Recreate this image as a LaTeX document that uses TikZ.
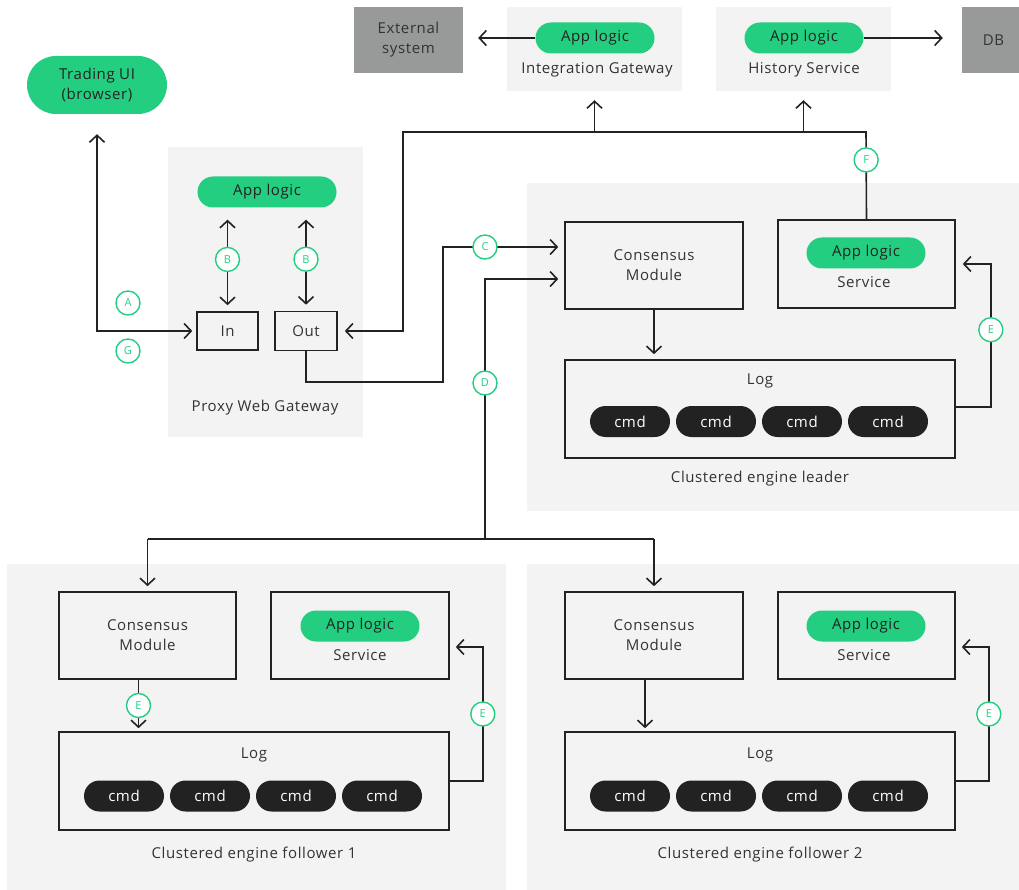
\documentclass[tikz,border=0pt]{standalone}
\usepackage{fontspec}
\setmainfont{Open Sans}[LetterSpace=4]
\usetikzlibrary{arrows.meta,shapes.misc}
\definecolor{ink}{HTML}{222222}
\definecolor{txt}{HTML}{333333}
\definecolor{appgreen}{HTML}{24CE80}
\definecolor{panelgray}{HTML}{F3F3F3}
\definecolor{extgray}{HTML}{989A99}

\begin{document}
\begin{tikzpicture}[x=1pt,y=-1pt,
  every node/.style={font=\fontsize{15}{20}\selectfont, text=txt, align=center},
  panel/.style={fill=panelgray, inner sep=0},
  extbox/.style={fill=extgray, inner sep=0},
  pill/.style={rounded rectangle, fill=appgreen, inner sep=0, minimum width=119, minimum height=31, text=ink},
  cmd/.style={rounded rectangle, fill=ink, inner sep=0, minimum width=80, minimum height=31, text=white},
  box/.style={draw=ink, line width=1.6pt, inner sep=0},
  tag/.style={circle, draw=appgreen, fill=white, line width=1.4pt, minimum size=24, inner sep=0, text=appgreen, font=\fontsize{11}{11}\selectfont},
  wire/.style={draw=ink, line width=1.6pt},
  arr/.style={-{Straight Barb[length=7pt,width=15pt]}},
  arr2/.style={{Straight Barb[length=7pt,width=15pt]}-{Straight Barb[length=7pt,width=15pt]}}]
\useasboundingbox (0,0) rectangle (1019,890);

\node[panel, minimum width=175, minimum height=84] (igw) at (594.5,49) {};
\node[panel, minimum width=175, minimum height=84] (hsw) at (803.5,49) {};
\node[panel, minimum width=195, minimum height=290] (pwg) at (265.5,292) {};
\node[panel, minimum width=498, minimum height=328] (lead) at (776,347) {};
\node[panel, minimum width=499, minimum height=331] (fol1) at (256.5,729.5) {};
\node[panel, minimum width=498, minimum height=331] (fol2) at (776,729.5) {};

\node[extbox, minimum width=109, minimum height=66] (extsys) at (408.5,40) {External\\system};
\node[extbox, minimum width=63, minimum height=66] (db) at (993.5,40) {DB};
\node[pill, minimum width=140, minimum height=58] (ui) at (97,85) {Trading UI\\(browser)};

\node (igw-lbl) at (597,70) {Integration Gateway};
\node (hsw-lbl) at (804,70) {History Service};
\node (pwg-lbl) at (265,408) {Proxy Web Gateway};
\node (lead-lbl) at (760,479) {Clustered engine leader};
\node (fol1-lbl) at (254,855) {Clustered engine follower 1};
\node (fol2-lbl) at (760,855) {Clustered engine follower 2};

\node[pill] (igw-app) at (595,38) {App logic};
\node[pill] (hsw-app) at (804,38) {App logic};
\node[pill, minimum width=139] (pwg-app) at (267,192) {App logic};
\node[box, minimum width=61, minimum height=38] (in) at (227.5,331) {In};
\node[box, minimum width=62, minimum height=39] (out) at (306,331) {Out};

\node[box, minimum width=178, minimum height=87] (cm0) at (654,265.5) {Consensus\\Module};
\node[box, minimum width=177, minimum height=88] (svc0) at (866.5,264) {};
\node[pill] (svc0-app) at (866,253) {App logic};
\node (svc0-lbl) at (864,282) {Service};
\node[box, minimum width=390, minimum height=98] (log0) at (760,409) {};
\node (log0-lbl) at (760,381) {Log};
\foreach \i/\x in {1/630,2/716,3/802,4/888}
  \node[cmd] (log0-cmd\i) at (\x,421.5) {cmd};

\node[box, minimum width=177, minimum height=87] (cm1) at (147.5,635.5) {Consensus\\Module};
\node[box, minimum width=178, minimum height=87] (svc1) at (360,635.5) {};
\node[pill] (svc1-app) at (360,626) {App logic};
\node (svc1-lbl) at (360,655) {Service};
\node[box, minimum width=390, minimum height=98] (log1) at (254,781) {};
\node (log1-lbl) at (254,755) {Log};
\foreach \i/\x in {1/124,2/210,3/296,4/382}
  \node[cmd] (log1-cmd\i) at (\x,796) {cmd};

\node[box, minimum width=178, minimum height=87] (cm2) at (654,635.5) {Consensus\\Module};
\node[box, minimum width=177, minimum height=87] (svc2) at (866.5,635.5) {};
\node[pill] (svc2-app) at (866,626) {App logic};
\node (svc2-lbl) at (864,655) {Service};
\node[box, minimum width=390, minimum height=98] (log2) at (760,781) {};
\node (log2-lbl) at (760,755) {Log};
\foreach \i/\x in {1/630,2/716,3/802,4/888}
  \node[cmd] (log2-cmd\i) at (\x,796) {cmd};

\coordinate (busR) at (866,132);
\coordinate (busL) at (403,132);
\coordinate (cbend) at (443,382);
\coordinate (dsplit) at (485,539);

\draw[wire, {Straight Barb[length=7pt,width=15pt,sep=9pt]}-{Straight Barb[length=7pt,width=15pt]}, shorten <=11pt, shorten >=4pt] (ui.south) |- (in.west);
\node[tag] (tag-a) at (128,303) {A};
\node[tag] (tag-g) at (128,351) {G};
\draw[wire, arr2, shorten <=12pt, shorten >=6pt] (in.north |- pwg-app.south) -- node[tag] (tag-b1) {B} (in.north);
\draw[wire, arr2, shorten <=12pt, shorten >=6pt] (out.north |- pwg-app.south) -- node[tag] (tag-b2) {B} (out.north);

\draw[wire, arr, shorten >=7pt] (svc0.north) -- node[tag, pos=0.68] (tag-f) {F} (busR) -- (busL) |- (out.east);
\draw[wire, arr, shorten >=9pt] (igw.south |- busR) -- (igw.south);
\draw[wire, arr, shorten >=9pt] (hsw.south |- busR) -- (hsw.south);
\draw[wire, arr, shorten >=15pt] (igw-app.west) -- (igw-app.west -| extsys.east);
\draw[wire, arr, shorten >=19pt] (hsw-app.east) -- (hsw-app.east -| db.west);

\draw[wire, arr, shorten >=6pt] (out.south) |- (cbend) |- ([yshift=18.5pt]cm0.west);
\node[tag] (tag-c) at (485,247) {C};
\draw[wire, arr, shorten >=6pt] (dsplit) |- ([yshift=-13.5pt]cm0.west);
\node[tag] (tag-d) at (485,383) {D};
\draw[wire] (cm1.north |- dsplit) -- (cm2.north |- dsplit);
\draw[wire, arr, shorten >=5pt] (cm1.north |- dsplit) -- (cm1.north);
\draw[wire, arr, shorten >=5pt] (cm2.north |- dsplit) -- (cm2.north);

\draw[wire, arr, shorten >=5pt] (cm0.south) -- (cm0.south |- log0.north);
\draw[wire, arr, shorten >=3pt] ([xshift=-9pt]cm1.south) -- node[tag] (tag-e1) {E} ([xshift=-9pt]cm1.south |- log1.north);
\draw[wire, arr, shorten >=3pt] ([xshift=-9pt]cm2.south) -- ([xshift=-9pt]cm2.south |- log2.north);

\draw[wire, arr, shorten >=7pt] ([yshift=2pt]log0.east) -- ++(35,0) |- node[tag, pos=0.27] (tag-e0) {E} (svc0.east);
\draw[wire, arr, shorten >=6pt] (log1.east) -- ++(33,0) |- node[tag, pos=0.25] (tag-e2) {E} ([yshift=-11.5pt]svc1.east);
\draw[wire, arr, shorten >=6pt] (log2.east) -- ++(33,0) |- node[tag, pos=0.25] (tag-e3) {E} ([yshift=-11.5pt]svc2.east);
\end{tikzpicture}
\end{document}
